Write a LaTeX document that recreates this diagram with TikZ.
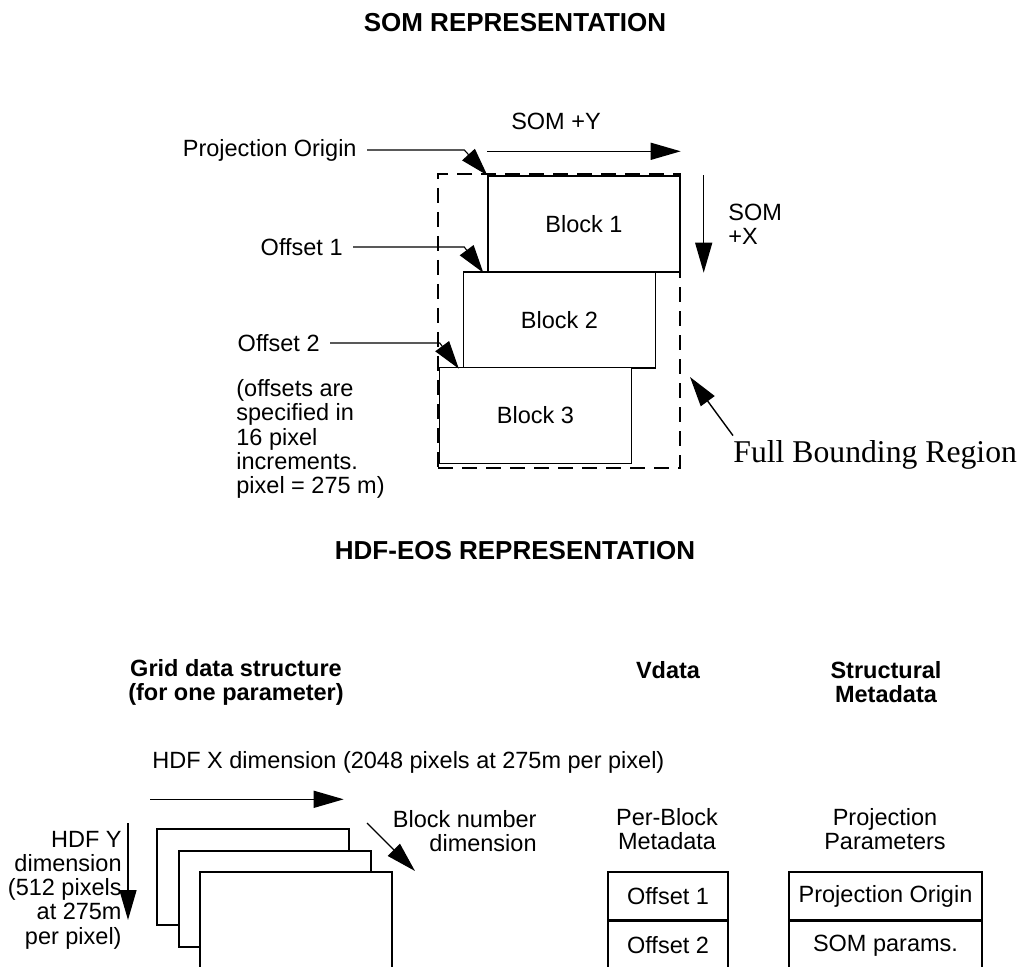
\documentclass[tikz,border=0pt]{standalone}
\usepackage{fontspec}
\setmainfont{Liberation Sans}
\newfontfamily\timesface{Liberation Serif}
\usetikzlibrary{arrows.meta,positioning}

\begin{document}
\begin{tikzpicture}[x=0.5pt,y=-0.5pt,
    txt/.style={font=\fontsize{11.75}{12.1}\selectfont, inner sep=0pt},
    head/.style={font=\fontsize{11.75}{12}\selectfont\bfseries, inner sep=0pt, align=center},
    title/.style={font=\fontsize{13}{15}\selectfont\bfseries, inner sep=0pt},
    blockbox/.style={draw, line width=0.7pt, fill=white, minimum width=96pt, minimum height=48pt, inner sep=0pt, font=\fontsize{11.75}{12}\selectfont},
    cell/.style={draw, line width=0.7pt, minimum height=24pt, inner sep=0pt, font=\fontsize{11.75}{12}\selectfont},
    frame/.style={draw, line width=0.7pt, dash pattern=on 7.5pt off 4.5pt, minimum width=121pt, minimum height=147pt, inner sep=0pt},
    bigarrow/.style={line width=0.7pt, -{Triangle[length=15pt,width=8.5pt]}},
    lead/.style={line width=0.55pt, -{Triangle[length=14pt,width=8.5pt]}},
  ]
  \useasboundingbox (0,0) rectangle (1021,967);
  \clip (0,0) rectangle (1021,967);

  % titles
  \node[title] (somtitle) at (515,23) {SOM REPRESENTATION};
  \node[title] (hdftitle) at (515,551) {HDF-EOS REPRESENTATION};

  % SOM blocks
  \node[frame] (bound) at (559,321) {};
  \node[blockbox] (b1) at (584,224) {Block 1};
  \node[blockbox] (b2) at (559.5,320) {Block 2};
  \node[blockbox] (b3) at (535.5,415.5) {Block 3};

  \node[txt, anchor=east] (lbpo) at (357,150) {Projection Origin};
  \node[txt, anchor=east] (lbo1) at (343,247) {Offset 1};
  \node[txt, anchor=east] (lbo2) at (320,343) {Offset 2};
  \node[txt, anchor=west, align=left] (notes) at (236,439) {(offsets are\\specified in\\16 pixel\\increments.\\pixel = 275 m)};

  \draw[lead] ([xshift=5pt]lbpo.east) -- ([xshift=-11.5pt]b1.north west |- lbpo.east) -- (b1.north west);
  \draw[lead] ([xshift=5pt]lbo1.east) -- ([xshift=-11.5pt]b1.south west |- lbo1.east) -- ([xshift=-2pt]b1.south west);
  \draw[lead] ([xshift=5pt]lbo2.east) -- ([xshift=-11.5pt]b2.south west |- lbo2.east) -- ([xshift=-2pt]b2.south west);

  \node[txt] (lbsy) at (556,121) {SOM +Y};
  \draw[bigarrow] ([yshift=12pt]b1.north west) -- ([yshift=12pt]b1.north east);
  \node[txt, anchor=west, align=left] (lbsx) at (728,224) {SOM\\+X};
  \draw[bigarrow] ([xshift=11.5pt]b1.north east) -- ([xshift=11.5pt]b1.south east);

  \node[font=\timesface\fontsize{15.85}{18}\selectfont, inner sep=0pt, anchor=base west] (lbfbr) at (733,462) {Full Bounding Region};
  \coordinate (fbrtip) at (690,377);
  \draw[bigarrow] ([yshift=2pt]lbfbr.north west) -- (fbrtip);

  % HDF-EOS side
  \node[head] (hgrid) at (236,682) {Grid data structure\\(for one parameter)};
  \node[head] (hvdata) at (668,670) {Vdata};
  \node[head] (hstruct) at (886,682) {Structural\\Metadata};

  \node[txt, anchor=west] (lbhx) at (152,762) {HDF X dimension (2048 pixels at 275m per pixel)};
  \node[blockbox] (g1) at (253,877) {};
  \node[blockbox] (g2) at (275,899) {};
  \node[blockbox, minimum height=60pt] (g3) at (296,932) {};
  \draw[bigarrow] ([xshift=-3pt,yshift=14.5pt]g1.north west) -- ([xshift=-3pt,yshift=14.5pt]g1.north east);

  \node[txt, anchor=east, align=right] (lbbn) at (537,831) {Block number\\dimension};
  \coordinate (bnfrom) at (367,823);
  \coordinate (bnto) at (415,871);
  \draw[bigarrow] (bnfrom) -- (bnto);

  \node[txt, anchor=east, align=right] (lbhy) at (122,890) {HDF Y\\dimension\\(512 pixels\\at 275m\\per pixel)};
  \coordinate (hyfrom) at (128,823);
  \coordinate (hyto) at (128,920);
  \draw[bigarrow] (hyfrom) -- (hyto);

  \node[txt, align=center] (lbpb) at (667,829) {Per-Block\\Metadata};
  \node[cell, minimum width=60pt] (v1) at (668,896) {Offset 1};
  \node[cell, minimum width=60pt, below=0pt of v1] (v2) {Offset 2};

  \node[txt, align=center] (lbpp) at (885,829) {Projection\\Parameters};
  \node[cell, minimum width=96.5pt] (s1) at (885.5,896) {Projection Origin};
  \node[cell, minimum width=96.5pt, below=0pt of s1] (s2) {SOM params.};
\end{tikzpicture}
\end{document}
